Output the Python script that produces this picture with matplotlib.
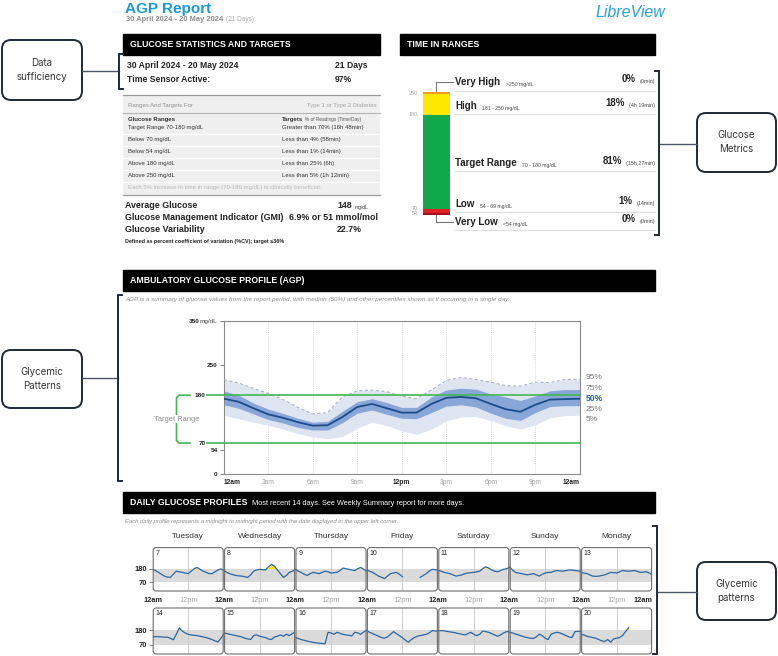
import numpy as np
import matplotlib.pyplot as plt
from matplotlib.patches import FancyBboxPatch, Rectangle

W, H = 778, 656
plt.rcParams['font.family'] = ['Liberation Sans', 'DejaVu Sans']

# header
report_title = "AGP Report"
report_period = "30 April 2024 - 20 May 2024"
report_days = "(21 Days)"

# glucose statistics
days_label = "21 Days"
sensor_active = "97%"
range_names = ["Target Range 70-180 mg/dL", "Below 70 mg/dL", "Below 54 mg/dL",
               "Above 180 mg/dL", "Above 250 mg/dL"]
range_targets = ["Greater than 70% (16h 48min)", "Less than 4% (58min)",
                 "Less than 1% (14min)", "Less than 25% (6h)", "Less than 5% (1h 12min)"]
avg_glucose = "148"
gmi = "6.9% or 51 mmol/mol"
glucose_cv = "22.7%"

# time in ranges, bottom to top
tir_names = ["Very Low", "Low", "Target Range", "High", "Very High"]
tir_ranges = ["<54 mg/dL", "54 - 69 mg/dL", "70 - 180 mg/dL", "181 - 250 mg/dL", ">250 mg/dL"]
tir_pct = [0, 1, 81, 18, 0]
tir_time = ["(0min)", "(14min)", "(15h 27min)", "(4h 19min)", "(0min)"]
tir_limits = ["54", "70", "180", "250"]
tir_colors = ['#a3121a', '#e41e26', '#0fa84b', '#ffe800', '#f59a23']

# AGP percentiles, one value per hour 12am..12am
agp_hours = np.arange(25)
p95 = [216, 208, 196, 184, 170, 152, 137, 140, 176, 190, 192, 188, 178,
       172, 192, 214, 221, 216, 210, 202, 201, 210, 209, 216, 217]
p75 = [190, 180, 162, 148, 138, 127, 118, 120, 143, 165, 172, 163, 152,
       152, 176, 192, 196, 194, 183, 176, 168, 178, 190, 193, 193]
p50 = [172, 165, 150, 136, 128, 118, 110, 111, 130, 153, 160, 150, 140,
       140, 160, 174, 176, 173, 160, 148, 142, 158, 170, 171, 172]
p25 = [158, 150, 137, 124, 116, 106, 100, 100, 117, 139, 146, 136, 127,
       126, 140, 155, 158, 153, 139, 127, 122, 140, 154, 156, 156]
p5 = [134, 126, 118, 111, 102, 92, 84, 80, 85, 104, 118, 110, 98,
      90, 102, 121, 130, 131, 122, 110, 102, 112, 128, 133, 134]
agp_xlabels = ["12am", "3am", "6am", "9am", "12pm", "3pm", "6pm", "9pm", "12am"]

# daily profiles, one value per hour
day_hours = np.arange(25)
weekdays = ["Tuesday", "Wednesday", "Thursday", "Friday", "Saturday", "Sunday", "Monday"]
day_numbers = list(range(7, 21))
nan = np.nan
daily = [
    [175, 165, 150, 135, 120, 112, 110, 135, 160, 155, 150, 145, 140,
     160, 180, 190, 175, 160, 150, 140, 140, 155, 170, 178, 165],
    [165, 150, 140, 132, 125, 122, 120, 115, 110, 130, 160, 170, 175,
     172, 170, 195, 215, 200, 170, 140, 110, 125, 150, 160, 170],
    [175, 160, 150, 135, 125, 140, 150, 145, 140, 150, 160, 155, 145,
     148, 150, 165, 185, 180, 175, 170, 165, 180, 190, 175, 160],
    [170, 160, 150, 135, 120, 110, 100, 120, 140, 145, 150, 135, 115,
     nan, nan, nan, nan, nan, 110, 125, 140, 160, 175, 172, 170],
    [165, 160, 150, 145, 140, 130, 120, 125, 130, 140, 145, 148, 150,
     155, 160, 180, 195, 185, 170, 160, 155, 165, 175, 180, 190],
    [195, 170, 150, 145, 140, 135, 130, 135, 140, 130, 120, 135, 145,
     150, 150, 160, 165, 162, 160, 165, 170, 168, 165, 162, 160],
    [150, 145, 140, 130, 120, 118, 120, 125, 130, 140, 150, 148, 145,
     155, 165, 162, 160, 162, 165, 158, 150, 152, 155, 145, 130],
    [130, 132, 132, 130, 128, 128, 120, 108, 150, 198, 175, 160, 150,
     145, 142, 140, 135, 130, 125, 118, 110, 100, 92, 120, 152],
    [162, 155, 150, 145, 140, 135, 130, 120, 115, 110, 140, 145, 135,
     130, 125, 115, 110, 130, 135, 145, 135, 150, 140, 155, 167],
    [125, 118, 110, 104, 98, 93, 88, 85, 82, 80, 78, 165, 160,
     150, 165, 158, 150, 145, 142, 138, 165, 160, 150, 168, 180],
    [178, 165, 155, 145, 135, 125, 120, 130, 150, 170, 155, 140, 125,
     105, 90, 110, 125, 135, 140, 145, 150, 160, 178, 175, 175],
    [178, 178, 176, 172, 168, 165, 160, 155, 150, 145, 155, 165, 150,
     140, 150, 175, 170, 165, 155, 145, 135, 145, 160, 170, 172],
    [165, 160, 152, 145, 138, 130, 125, 120, 118, 130, 150, 140, 120,
     110, 150, 160, 165, 160, 150, 140, 130, 125, 170, 172, 172],
    [150, 145, 135, 130, 125, 120, 110, 100, 95, 110, 90, 115, 120,
     125, 140, 170, 200, nan, nan, nan, nan, nan, nan, nan, nan],
]

fig = plt.figure(figsize=(W / 100, H / 100), dpi=100)


def px_axes(x0, y0, x1, y1, **kw):
    return fig.add_axes([x0 / W, 1 - y1 / H, (x1 - x0) / W, (y1 - y0) / H], **kw)


bg = fig.add_axes([0, 0, 1, 1])
bg.set_xlim(0, W)
bg.set_ylim(H, 0)
bg.axis('off')


def after(txt, anchor, size, dx=2, **kw):
    # small text placed right after another text on the same line
    return bg.annotate(txt, xy=(1, 0), xycoords=anchor, xytext=(dx, 0),
                       textcoords='offset points', va='bottom', fontsize=size, **kw)


def header_bar(x0, x1, y0, title, extra=None):
    bg.add_patch(Rectangle((x0, y0), x1 - x0, 21, color='black'))
    t = bg.text(x0 + 7, y0 + 10.5, title, color='white', weight='bold',
                fontsize=6.3, va='center')
    if extra:
        after(extra, t, 5.3, dx=3, color='white')


def callout(x0, y0, x1, y1, text):
    bg.add_patch(FancyBboxPatch((x0, y0), x1 - x0, y1 - y0,
                                boxstyle='round,pad=0,rounding_size=9',
                                fc='white', ec='#1f2937', lw=1.4))
    bg.text((x0 + x1) / 2, (y0 + y1) / 2, text, ha='center', va='center',
            fontsize=7, color='#333333', family=['Inter', 'DejaVu Sans'],
            linespacing=1.5)


def bracket(x, y0, y1, d):
    bg.plot([x + d, x, x, x + d], [y0, y0, y1, y1], color='#1f2937', lw=1.4,
            solid_joinstyle='miter')


# ---- title ----
bg.text(125, 9, report_title, fontsize=11, weight='bold', color='#1b9ad6', va='center')
sub = bg.text(126, 19.5, report_period, fontsize=5.4, weight='bold', color='#8a8a8a',
              va='center')
after(report_days, sub, 4.7, color='#a8a8a8')
bg.text(665, 12.5, "LibreView", fontsize=11.5, style='italic', color='#2a9fda',
        ha='right', va='center')

# ---- glucose statistics ----
header_bar(123, 380, 34, "GLUCOSE STATISTICS AND TARGETS")
bg.text(127, 65, report_period, fontsize=6.2, weight='bold', color='#222', va='center')
bg.text(335, 65, days_label, fontsize=6.2, weight='bold', color='#222', va='center')
bg.text(127, 80, "Time Sensor Active:", fontsize=6.2, weight='bold', color='#222',
        va='center')
bg.text(335, 80, sensor_active, fontsize=6.2, weight='bold', color='#222', va='center')

bg.add_patch(Rectangle((123, 95), 257, 100, color='#efefef', lw=0))
bg.plot([123, 380], [95, 95], color='#9a9a9a', lw=0.9)
bg.plot([123, 380], [113, 113], color='#b5b5b5', lw=0.8)
bg.plot([123, 380], [195, 195], color='#9a9a9a', lw=0.9)
bg.text(128, 105, "Ranges And Targets For", fontsize=4.3, color='#8f8f8f', va='center')
bg.text(377, 105, "Type 1 or Type 2 Diabetes", fontsize=4.3, color='#a5a5a5',
        ha='right', va='center')
bg.text(128, 119, "Glucose Ranges", fontsize=4.3, weight='bold', color='#333', va='center')
tg = bg.text(282, 119, "Targets", fontsize=4.3, weight='bold', color='#333', va='center')
after("% of Readings (Time/Day)", tg, 3.4, dx=1.5, color='#555')
for i, (nm, tgt) in enumerate(zip(range_names, range_targets)):
    y = 128 + 12 * i
    bg.text(128, y, nm, fontsize=4.3, color='#333', va='center')
    bg.text(282, y, tgt, fontsize=4.3, color='#333', va='center')
    bg.plot([123, 380], [y + 6, y + 6], color='white', lw=0.9)
bg.text(128, 188, "Each 5% increase in time in range (70-180 mg/dL) is clinically beneficial.",
        fontsize=4.3, color='#b8b8b8', va='center')

bg.text(125, 205, "Average Glucose", fontsize=6.4, weight='bold', color='#222', va='center')
ag = bg.text(337, 205, avg_glucose, fontsize=6.4, weight='bold', color='#222', va='center')
after("mg/dL", ag, 3.5, dx=2, color='#333')
bg.text(125, 218, "Glucose Management Indicator (GMI)", fontsize=6.4, weight='bold',
        color='#222', va='center')
bg.text(378, 218, gmi, fontsize=6.4, weight='bold', color='#222', ha='right', va='center')
bg.text(125, 230, "Glucose Variability", fontsize=6.4, weight='bold', color='#222',
        va='center')
bg.text(337, 230, glucose_cv, fontsize=6.4, weight='bold', color='#222', va='center')
bg.text(125, 242, "Defined as percent coefficient of variation (%CV); target \u226436%",
        fontsize=3.9, weight='bold', color='#222', va='center')

# ---- time in ranges ----
header_bar(400, 655, 34, "TIME IN RANGES")
tir_ax = px_axes(423, 92, 450, 215)
shown = np.maximum(tir_pct, [1.5, 4, 0, 0, 1.5])
bottoms = np.concatenate([[0], np.cumsum(shown)[:-1]])
tir_ax.bar(0, shown, bottom=bottoms, width=1, color=tir_colors, lw=0)
tir_ax.set_xlim(-0.5, 0.5)
tir_ax.set_ylim(0, shown.sum())
tir_ax.axis('off')
for j, lab in enumerate(tir_limits):
    tir_ax.annotate(lab, xy=(0, bottoms[j + 1]), xycoords=('axes fraction', 'data'),
                    xytext=(-4, 0), textcoords='offset points', ha='right',
                    va='center', fontsize=3.9, color='#a0a0a0', annotation_clip=False)

row_y = [222, 204, 163, 106, 82]
line_y = [230, 212, 171, 114, 91]
for i in range(5):
    lab = bg.text(455, row_y[i], tir_names[i], fontsize=7, weight='bold',
                  color='#222', va='center')
    after(tir_ranges[i], lab, 3.7, dx=4, color='#444')
    tt = bg.text(655, row_y[i], tir_time[i], fontsize=3.9, color='#444',
                 ha='right', va='center')
    bg.annotate(f"{tir_pct[i]}%", xy=(0, 0), xycoords=tt, xytext=(-3, 0),
                textcoords='offset points', ha='right', va='bottom',
                fontsize=7, weight='bold', color='#222')
    bg.plot([455, 655], [line_y[i], line_y[i]], color='#dcdcdc', lw=0.8)
bg.plot([436.5, 436.5, 453], [92, 82, 82], color='#777', lw=0.8)
bg.plot([436.5, 436.5, 453], [215, 222, 222], color='#777', lw=0.8)

# ---- AGP ----
header_bar(123, 655, 270, "AMBULATORY GLUCOSE PROFILE (AGP)")
bg.text(125, 300, "AGP is a summary of glucose values from the report period, with median "
        "(50%) and other percentiles shown as if occurring in a single day.",
        fontsize=4.5, style='italic', color='#8c8c8c', va='center')

agp = px_axes(223.8, 321.3, 579.7, 473.5)
agp.set_xlim(0, 24)
agp.set_ylim(0, 350)
agp.fill_between(agp_hours, p5, p95, color='#dfe4f1', lw=0, zorder=1)
agp.fill_between(agp_hours, p25, p75, color='#88a6d7', lw=0, zorder=2)
agp.plot(agp_hours, p95, color='#aab3c9', lw=0.8, ls=(0, (3, 2)), zorder=3)
agp.plot(agp_hours, p50, color='#1b4c8c', lw=1.3, zorder=4)
for h in range(3, 24, 3):
    agp.axvline(h, color='#c9c9c9', lw=0.6, ls=(0, (1, 1.5)), zorder=0)
green = '#41b653'
for lvl in (180, 70):
    agp.plot([-1.15, 24], [lvl, lvl], color=green, lw=1.2, clip_on=False, zorder=5)
    agp.annotate(str(lvl), xy=(0, lvl), xycoords=('axes fraction', 'data'),
                 xytext=(-13, 0), textcoords='offset points', ha='right', va='center',
                 fontsize=4.6, weight='bold', color='#222')
for s in agp.spines.values():
    s.set_color('#8a8a8a')
    s.set_linewidth(0.8)
agp.set_yticks([0, 54, 250, 350])
agp.set_yticklabels(['0', '54', '250', ''])
agp.tick_params(axis='y', length=3, width=0.6, color='#666', pad=1.5, labelsize=4.6)
for t in agp.get_yticklabels():
    t.set_fontweight('bold')
    t.set_color('#222')
mg = agp.annotate("mg/dL", xy=(0, 350), xycoords=('axes fraction', 'data'),
                  xytext=(-4.5, 0), textcoords='offset points', ha='right',
                  va='center', fontsize=4.6, color='#444')
agp.annotate("350", xy=(0, 0.5), xycoords=mg, ha='right', va='center',
             fontsize=4.6, weight='bold', color='#222')
agp.set_xticks(range(0, 25, 3))
agp.set_xticklabels(agp_xlabels)
agp.tick_params(axis='x', length=0, pad=4, labelsize=4.8)
xl = agp.get_xticklabels()
for t in xl:
    if t.get_text() in ("12am", "12pm"):
        t.set_fontweight('bold')
        t.set_color('#222')
    else:
        t.set_color('#a0a0a0')
xl[0].set_ha('left')
xl[-1].set_ha('right')

# percentile labels at the right end
pct_names = ["95%", "75%", "50%", "25%", "5%"]
for k, nm in enumerate(pct_names):
    yv = p50[-1] + 24 * (2 - k)
    agp.annotate(nm, xy=(24, yv), xytext=(4.5, 0), textcoords='offset points',
                 va='center', fontsize=6 if k != 2 else 6.2,
                 color='#1f64b4' if k == 2 else '#7a7a7a',
                 weight='bold' if k == 2 else 'normal', annotation_clip=False)

# target range bracket to the left of the axis
to_px = lambda v: H - agp.transData.transform((0, v))[1]
y_hi, y_lo = to_px(180), to_px(70)
bg.plot([190, 179, 176.5, 176.5, 179, 190],
        [y_hi, y_hi, y_hi + 2.5, y_lo - 2.5, y_lo, y_lo], color=green, lw=1.2)
bg.text(176.5, (y_hi + y_lo) / 2, "Target Range", fontsize=5.4, color='#8c8c8c',
        ha='center', va='center', bbox=dict(fc='white', ec='none', pad=0.6))

# ---- daily profiles ----
header_bar(123, 655, 492, "DAILY GLUCOSE PROFILES",
           "Most recent 14 days. See Weekly Summary report for more days.")
bg.text(125, 521, "Each daily profile represents a midnight to midnight period with the "
        "date displayed in the upper left corner.", fontsize=4.2, style='italic',
        color='#8c8c8c', va='center')

pw = 71.4
rows = [(547.6, 591), (608, 654)]
panels = []
for k, vals in enumerate(daily):
    r, c = divmod(k, 7)
    x0 = 152.5 + c * pw
    y0, y1 = rows[r]
    ax = px_axes(x0, y0, x0 + pw, y1)
    ax.patch.set_alpha(0)
    ax.set_xlim(0, 24)
    ax.set_ylim(0, 350)
    v = np.array(vals, dtype=float)
    ax.axhspan(70, 180, color='#dadada', lw=0, zorder=0)
    ax.axvline(12, color='#c6c6c6', lw=0.6, zorder=0)
    ax.fill_between(day_hours, 180, v, where=v > 180, interpolate=True,
                    color='#ffe600', lw=0, zorder=1)
    ax.plot(day_hours, v, color='#2a67a3', lw=0.9, zorder=2)
    ax.text(0.04, 0.95, str(day_numbers[k]), transform=ax.transAxes, fontsize=5,
            va='top', color='#222')
    for s in ax.spines.values():
        s.set_visible(False)
    if c == 0:
        ax.set_yticks([70, 180])
        ax.set_yticklabels(['70', '180'])
        ax.tick_params(axis='y', length=3, width=0.6, color='#666', pad=1,
                       labelsize=5.4)
        for t in ax.get_yticklabels():
            t.set_fontweight('bold')
            t.set_color('#222')
    else:
        ax.set_yticks([])
    if r == 0:
        ticks = [0, 12, 24] if c == 6 else [0, 12]
        ax.set_xticks(ticks)
        ax.set_xticklabels(["12am", "12pm", "12am"][:len(ticks)])
        ax.tick_params(axis='x', length=0, pad=4.5, labelsize=5.3)
        for t in ax.get_xticklabels():
            if t.get_text() == "12am":
                t.set_fontweight('bold')
                t.set_color('#222')
            else:
                t.set_color('#a5a5a5')
        if c == 6:
            ax.get_xticklabels()[-1].set_ha('right')
        bg.text(x0 + pw / 2, 536.4, weekdays[c], fontsize=6, color='#333',
                ha='center', va='center')
    else:
        ax.set_xticks([])
    panels.append((x0, y0, y1))

ov = fig.add_axes([0, 0, 1, 1], zorder=20)
ov.set_xlim(0, W)
ov.set_ylim(H, 0)
ov.axis('off')
for x0, y0, y1 in panels:
    ov.add_patch(FancyBboxPatch((x0 + 0.7, y0), pw - 1.4, y1 - y0,
                                boxstyle='round,pad=0,rounding_size=3',
                                fc='none', ec='#6e6e6e', lw=0.8))

# ---- callouts ----
callout(2, 40, 82, 100, "Data\nsufficiency")
bg.plot([82, 119], [71, 71], color='#4b5563', lw=1)
bracket(119.5, 54, 89, 4)

callout(697, 113, 776, 172, "Glucose\nMetrics")
bg.plot([659, 697], [144, 144], color='#4b5563', lw=1)
bracket(659, 71, 235, -4)

callout(2, 350, 82, 408, "Glycemic\nPatterns")
bg.plot([82, 118.5], [378, 378], color='#4b5563', lw=1)
bracket(118.5, 295, 481, 4)

callout(697, 562, 776, 620, "Glycemic\npatterns")
bg.plot([657, 697], [592, 592], color='#4b5563', lw=1)
bracket(657, 526, 654, -4)

fig.savefig('out.png', dpi=100)
